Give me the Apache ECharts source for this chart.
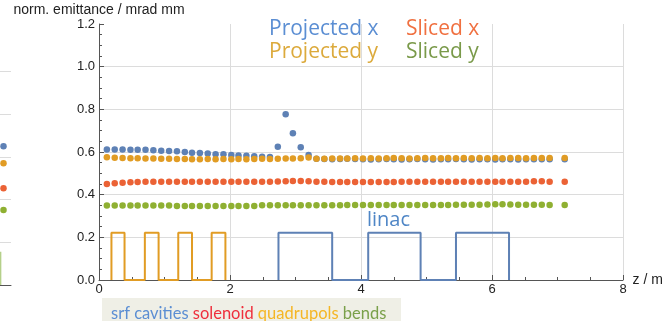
<!DOCTYPE html>
<html>
<head>
<meta charset="utf-8">
<script src="https://cdn.jsdelivr.net/npm/echarts@6/dist/echarts.min.js"></script>
<style>
  html, body { margin: 0; padding: 0; background: #fff; }
  #chart { width: 670px; height: 321px; }
</style>
</head>
<body>
<div id="chart"></div>
<script>
// Beam-line positions z (m) of the emittance samples
const zPos = [
  0.12, 0.24, 0.36, 0.48, 0.59, 0.71, 0.83, 0.95, 1.07, 1.19,
  1.31, 1.42, 1.54, 1.66, 1.78, 1.90, 2.02, 2.13, 2.25, 2.37,
  2.49, 2.61, 2.73, 2.85, 2.96, 3.08, 3.20, 3.32, 3.44, 3.56,
  3.68, 3.79, 3.91, 4.03, 4.15, 4.27, 4.39, 4.50, 4.62, 4.74,
  4.86, 4.98, 5.10, 5.22, 5.33, 5.45, 5.57, 5.69, 5.81, 5.93,
  6.05, 6.16, 6.28, 6.40, 6.52, 6.64, 6.76, 6.88, 7.11
];

// Normalized emittance (mrad mm)
const projectedX = [
  0.612, 0.612, 0.612, 0.611, 0.611, 0.611, 0.608, 0.606, 0.605, 0.603,
  0.600, 0.597, 0.595, 0.593, 0.590, 0.589, 0.586, 0.584, 0.582, 0.580,
  0.578, 0.576, 0.625, 0.777, 0.688, 0.622, 0.586, 0.568, 0.567, 0.566,
  0.567, 0.568, 0.567, 0.566, 0.565, 0.566, 0.567, 0.566, 0.565, 0.566,
  0.567, 0.566, 0.565, 0.566, 0.566, 0.567, 0.566, 0.565, 0.566, 0.566,
  0.565, 0.566, 0.566, 0.565, 0.566, 0.566, 0.566, 0.566, 0.566
];
const projectedY = [
  0.575, 0.573, 0.572, 0.571, 0.571, 0.570, 0.569, 0.568, 0.568, 0.567,
  0.567, 0.566, 0.566, 0.567, 0.566, 0.567, 0.566, 0.567, 0.566, 0.567,
  0.568, 0.567, 0.568, 0.570, 0.570, 0.571, 0.574, 0.568, 0.568, 0.569,
  0.570, 0.570, 0.571, 0.570, 0.571, 0.570, 0.571, 0.572, 0.571, 0.570,
  0.571, 0.572, 0.571, 0.571, 0.572, 0.571, 0.572, 0.571, 0.572, 0.571,
  0.572, 0.571, 0.572, 0.572, 0.571, 0.572, 0.572, 0.572, 0.572
];
const slicedX = [
  0.450, 0.454, 0.456, 0.458, 0.459, 0.460, 0.461, 0.461, 0.461, 0.461,
  0.461, 0.461, 0.461, 0.461, 0.461, 0.461, 0.461, 0.461, 0.461, 0.461,
  0.461, 0.461, 0.462, 0.463, 0.464, 0.464, 0.463, 0.461, 0.460, 0.459,
  0.459, 0.459, 0.459, 0.459, 0.459, 0.459, 0.459, 0.459, 0.460, 0.460,
  0.460, 0.460, 0.460, 0.460, 0.460, 0.460, 0.460, 0.460, 0.460, 0.460,
  0.460, 0.460, 0.460, 0.460, 0.460, 0.463, 0.463, 0.460, 0.460
];
const slicedY = [
  0.349, 0.349, 0.349, 0.349, 0.349, 0.349, 0.349, 0.349, 0.349, 0.347,
  0.347, 0.347, 0.347, 0.347, 0.347, 0.347, 0.347, 0.347, 0.347, 0.347,
  0.350, 0.350, 0.350, 0.350, 0.350, 0.350, 0.350, 0.350, 0.350, 0.350,
  0.350, 0.351, 0.351, 0.351, 0.351, 0.351, 0.351, 0.351, 0.351, 0.351,
  0.351, 0.351, 0.351, 0.351, 0.351, 0.353, 0.353, 0.353, 0.353, 0.354,
  0.355, 0.355, 0.354, 0.353, 0.353, 0.353, 0.353, 0.352, 0.352
];

// Beam-line elements: start / end positions (m) and marker height
const quadStart = [0.19, 0.70, 1.21, 1.72];
const quadEnd   = [0.39, 0.91, 1.42, 1.93];
const linacStart = [2.74, 4.11, 5.45];
const linacEnd   = [3.56, 4.91, 6.26];
const elementHeight = 0.222;

// Tail of the neighbouring panel (its last sample and a bend marker)
const sidePanelZ = 0.625;
const sidePanelValues = { projX: 0.650, projY: 0.571, slicedX: 0.454, slicedY: 0.351 };
const sideBendZ = 0.48;
const sideBendHeight = 0.156;

const axisTicksY = { min: 0, max: 1.2, interval: 0.2 };
const axisTicksX = { min: 0, max: 8, interval: 2 };

const C_BLUE = '#5E81B5', C_ORANGE = '#E19C24', C_GREEN = '#8FB032', C_RED = '#EB6235';
const GRID_COLOR = '#dcdcdc';
const AXIS_COLOR = '#555';
const KEY_FONT = '21px "Open Sans"';

function pairs(xs, ys) { return xs.map((x, i) => [x, ys[i]]); }

// Rectangular pulses along z=0 for a set of elements
function boxes(starts, ends, h) {
  const pts = [];
  starts.forEach((s, i) => {
    pts.push([s, 0], [s, h], [ends[i], h], [ends[i], 0]);
  });
  return pts;
}

const dotStyle = (color) => ({
  type: 'scatter', symbol: 'circle', symbolSize: 6.5,
  itemStyle: { color: color, opacity: 1 }, silent: true
});

const chart = echarts.init(document.getElementById('chart'), null, { renderer: 'canvas' });

const option = {
  animation: false,
  backgroundColor: '#fff',
  grid: [
    { left: 99, right: 47, top: 24, bottom: 41, outerBoundsMode: 'none' },
    { left: -9, width: 20, top: 29, height: 256, outerBoundsMode: 'none' }
  ],
  xAxis: [
    {
      gridIndex: 0, type: 'value', min: axisTicksX.min, max: axisTicksX.max, interval: axisTicksX.interval,
      name: 'z / m', nameLocation: 'end', nameGap: 6,
      nameTextStyle: { fontFamily: 'Liberation Sans', fontSize: 14, color: '#222', align: 'left', verticalAlign: 'middle' },
      axisLine: { show: true, lineStyle: { color: AXIS_COLOR, width: 1 } },
      axisTick: { show: true, inside: true, length: 5, lineStyle: { color: AXIS_COLOR } },
      minorTick: { show: true, splitNumber: 4, length: 3, lineStyle: { color: AXIS_COLOR } },
      axisLabel: { fontFamily: 'Liberation Sans', fontSize: 13, color: '#222', margin: 3, showMinLabel: true, showMaxLabel: true },
      splitLine: { show: true, showMinLine: false, showMaxLine: true, lineStyle: { color: GRID_COLOR, width: 1 } }
    },
    {
      gridIndex: 1, type: 'value', min: 0, max: 1,
      axisLine: { show: true, lineStyle: { color: AXIS_COLOR, width: 1 } },
      axisTick: { show: false }, axisLabel: { show: false }, splitLine: { show: false }
    }
  ],
  yAxis: [
    {
      gridIndex: 0, type: 'value', min: axisTicksY.min, max: axisTicksY.max, interval: axisTicksY.interval,
      name: 'norm. emittance / mrad mm', nameLocation: 'end', nameGap: 12,
      nameTextStyle: { fontFamily: 'Liberation Sans', fontSize: 14, color: '#222', align: 'center', verticalAlign: 'middle' },
      axisLine: { show: true, lineStyle: { color: AXIS_COLOR, width: 1 } },
      axisTick: { show: true, inside: true, length: 5, lineStyle: { color: AXIS_COLOR } },
      minorTick: { show: true, splitNumber: 4, length: 3, lineStyle: { color: AXIS_COLOR } },
      axisLabel: {
        fontFamily: 'Liberation Sans', fontSize: 13, color: '#222', margin: 4,
        formatter: (v) => v.toFixed(1)
      },
      splitLine: { show: true, showMinLine: false, showMaxLine: false, lineStyle: { color: GRID_COLOR, width: 1 } }
    },
    {
      gridIndex: 1, type: 'value', min: 0, max: 1.2, interval: 0.2,
      axisLine: { show: false }, axisTick: { show: false }, axisLabel: { show: false },
      splitLine: { show: true, showMinLine: false, showMaxLine: false, lineStyle: { color: GRID_COLOR, width: 1 } }
    }
  ],
  series: [
    {
      name: 'quadrupols', type: 'line', xAxisIndex: 0, yAxisIndex: 0,
      data: boxes(quadStart, quadEnd, elementHeight),
      showSymbol: false, lineStyle: { color: C_ORANGE, width: 2 }, silent: true
    },
    {
      name: 'linac', type: 'line', xAxisIndex: 0, yAxisIndex: 0,
      data: boxes(linacStart, linacEnd, elementHeight),
      showSymbol: false, lineStyle: { color: C_BLUE, width: 2 }, silent: true
    },
    Object.assign(dotStyle(C_BLUE),   { name: 'Projected x', data: pairs(zPos, projectedX) }),
    Object.assign(dotStyle(C_ORANGE), { name: 'Projected y', data: pairs(zPos, projectedY) }),
    Object.assign(dotStyle(C_GREEN),  { name: 'Sliced y',    data: pairs(zPos, slicedY) }),
    Object.assign(dotStyle(C_RED),    { name: 'Sliced x',    data: pairs(zPos, slicedX) }),

    // neighbouring panel tail
    {
      type: 'line', xAxisIndex: 1, yAxisIndex: 1,
      data: [[sideBendZ, 0], [sideBendZ, sideBendHeight]],
      showSymbol: false, lineStyle: { color: '#b5d08a', width: 1.5 }, silent: true
    },
    Object.assign(dotStyle(C_BLUE),   { xAxisIndex: 1, yAxisIndex: 1, data: [[sidePanelZ, sidePanelValues.projX]] }),
    Object.assign(dotStyle(C_ORANGE), { xAxisIndex: 1, yAxisIndex: 1, data: [[sidePanelZ, sidePanelValues.projY]] }),
    Object.assign(dotStyle(C_GREEN),  { xAxisIndex: 1, yAxisIndex: 1, data: [[sidePanelZ, sidePanelValues.slicedY]] }),
    Object.assign(dotStyle(C_RED),    { xAxisIndex: 1, yAxisIndex: 1, data: [[sidePanelZ, sidePanelValues.slicedX]] })
  ],
  graphic: [
    // series key
    { type: 'text', x: 269, y: 29, style: { text: 'Projected x', fill: '#5b8ed3', font: KEY_FONT, verticalAlign: 'middle' } },
    { type: 'text', x: 406, y: 29, style: { text: 'Sliced x', fill: '#f07040', font: KEY_FONT, verticalAlign: 'middle' } },
    { type: 'text', x: 269, y: 52, style: { text: 'Projected y', fill: '#dcaa3c', font: KEY_FONT, verticalAlign: 'middle' } },
    { type: 'text', x: 406, y: 52, style: { text: 'Sliced y', fill: '#7a9a4a', font: KEY_FONT, verticalAlign: 'middle' } },
    // element label
    { type: 'text', x: 367, y: 220, style: { text: 'linac', fill: '#4f86c6', font: '20px "Open Sans"', verticalAlign: 'middle' } },
    // element colour key
    { type: 'rect', shape: { x: 102, y: 298, width: 299, height: 30 }, style: { fill: '#efefe6' } },
    {
      type: 'text', x: 111, y: 314,
      style: {
        text: '{a|srf cavities} {b|solenoid} {c|quadrupols} {d|bends}',
        font: '16.5px Lato', verticalAlign: 'middle',
        rich: {
          a: { fill: '#5b8ed3', font: '16.5px Lato' },
          b: { fill: '#ef2f3c', font: '16.5px Lato' },
          c: { fill: '#f5b625', font: '16.5px Lato' },
          d: { fill: '#7aa04a', font: '16.5px Lato' }
        }
      }
    }
  ]
};

chart.setOption(option);
</script>
</body>
</html>
